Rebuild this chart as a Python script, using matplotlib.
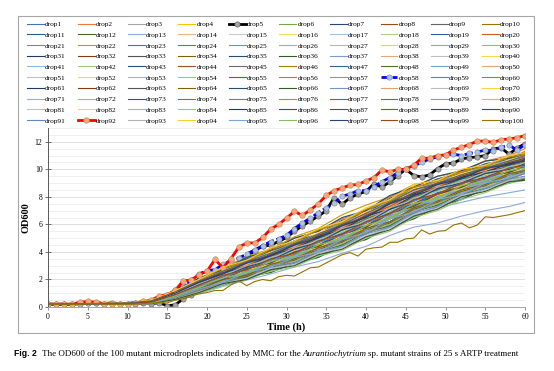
import colorsys
import matplotlib
matplotlib.use('Agg')
import matplotlib.pyplot as plt
from matplotlib.colors import to_rgb
from matplotlib.patches import Rectangle

plt.rcParams['font.family'] = ['Liberation Serif', 'DejaVu Serif']

# hourly readings for the highlighted drops, 3-hourly readings for the others
hours = list(range(61))
coarse_hours = [0, 10, 13, 16, 19, 22, 25, 28, 31, 34, 37, 40, 43, 46, 49, 52, 55, 58, 60]

drop1 = [0.2, 0.25, 0.4, 0.9, 1.7, 2.2, 2.9, 3.6, 4.1, 4.8, 5.6, 6.2, 7.0, 7.9, 8.4, 9.1, 9.7, 10.1, 10.5]
drop2 = [0.2, 0.3, 0.45, 1.1, 1.9, 2.5, 3.3, 3.9, 4.7, 5.3, 6.1, 6.8, 7.8, 8.4, 9.3, 9.8, 10.6, 11.0, 11.5]
drop3 = [0.2, 0.25, 0.3, 0.7, 1.3, 2.0, 2.6, 3.0, 3.7, 4.4, 4.9, 5.8, 6.4, 7.3, 8.0, 8.4, 9.2, 9.6, 9.9]
drop4 = [0.2, 0.3, 0.45, 1.0, 1.9, 2.7, 3.2, 4.1, 4.5, 5.3, 5.9, 6.9, 7.4, 8.3, 9.0, 9.4, 10.1, 10.3, 10.8]
drop5 = [0.2, 0.2, 0.2, 0.2, 0.25, 0.3, 0.3, 0.25, 0.25, 0.25,
         0.25, 0.25, 0.3, 0.25, 0.3, 0.1, 0.15, 0.6, 0.9, 1.2,
         1.5, 1.9, 2.3, 2.7, 3.2, 3.6, 4.1, 4.4, 4.5, 4.75,
         5.05, 5.5, 5.9, 6.25, 6.6, 7.0, 7.95, 7.45, 7.95, 8.2,
         8.4, 8.95, 8.7, 9.1, 9.55, 10.0, 9.55, 9.45, 9.6, 10.05,
         10.4, 10.45, 10.75, 10.85, 10.9, 11.0, 11.5, 11.55, 11.1, 11.55, 11.85]
drop6 = [0.2, 0.2, 0.25, 0.6, 1.2, 1.7, 2.3, 2.9, 3.3, 4.0, 4.8, 5.3, 6.1, 7.0, 7.5, 8.3, 9.0, 9.3, 9.7]
drop7 = [0.2, 0.25, 0.35, 0.9, 1.5, 2.2, 2.9, 3.3, 4.1, 4.6, 5.4, 6.2, 6.8, 7.7, 8.4, 8.9, 9.5, 10.1, 10.4]
drop8 = [0.2, 0.25, 0.4, 1.0, 1.8, 2.5, 3.0, 3.6, 4.4, 5.0, 5.6, 6.5, 7.2, 8.1, 8.6, 9.3, 9.8, 10.4, 10.7]
drop9 = [0.2, 0.25, 0.3, 0.8, 1.5, 2.0, 2.7, 3.4, 3.8, 4.5, 5.3, 5.8, 6.7, 7.4, 8.2, 8.7, 9.4, 9.8, 10.1]
drop10 = [0.2, 0.3, 0.45, 1.1, 2.0, 2.7, 3.2, 4.0, 4.8, 5.2, 6.1, 6.7, 7.6, 8.5, 8.9, 9.6, 10.0, 10.6, 10.9]
drop11 = [0.2, 0.2, 0.3, 0.7, 1.3, 1.8, 2.5, 3.0, 3.5, 4.3, 4.8, 5.7, 6.2, 7.1, 7.9, 8.3, 9.1, 9.5, 9.9]
drop12 = [0.2, 0.2, 0.25, 0.55, 1.1, 1.7, 2.1, 2.7, 3.3, 3.7, 4.5, 5.0, 5.9, 6.5, 7.4, 7.9, 8.6, 9.2, 9.2]
drop13 = [0.2, 0.25, 0.3, 0.6, 1.0, 1.5, 1.95, 2.4, 2.9, 3.3, 3.9, 4.4, 5.2, 5.8, 6.1, 6.6, 7.0, 7.3, 7.6]
drop14 = [0.2, 0.25, 0.4, 0.95, 1.7, 2.4, 2.9, 3.6, 4.3, 4.8, 5.7, 6.2, 7.1, 8.0, 8.5, 9.2, 9.8, 10.1, 10.6]
drop15 = [0.2, 0.25, 0.35, 0.85, 1.5, 2.2, 2.7, 3.4, 3.9, 4.6, 5.4, 5.9, 6.8, 7.5, 8.3, 8.8, 9.4, 10.0, 10.3]
drop16 = [0.2, 0.3, 0.4, 1.0, 1.8, 2.4, 3.2, 3.7, 4.5, 5.1, 5.8, 6.7, 7.3, 8.1, 8.9, 9.3, 10.0, 10.5, 10.8]
drop17 = [0.2, 0.2, 0.25, 0.6, 1.1, 1.7, 2.2, 2.8, 3.2, 3.9, 4.6, 5.1, 5.9, 6.6, 7.4, 7.9, 8.7, 9.1, 9.5]
drop18 = [0.2, 0.2, 0.3, 0.65, 1.3, 1.9, 2.3, 2.9, 3.6, 4.0, 4.8, 5.4, 6.1, 7.0, 7.6, 8.4, 8.8, 9.5, 9.8]
drop19 = [0.2, 0.25, 0.35, 0.9, 1.6, 2.3, 2.8, 3.6, 4.1, 4.7, 5.6, 6.1, 7.0, 7.9, 8.4, 9.1, 9.5, 10.2, 10.4]
drop20 = [0.2, 0.3, 0.45, 1.15, 2.0, 2.6, 3.5, 4.0, 4.8, 5.6, 6.1, 7.0, 7.7, 8.6, 9.3, 9.7, 10.4, 10.7, 11.1]
drop21 = [0.2, 0.25, 0.3, 0.8, 1.4, 2.1, 2.5, 3.2, 3.9, 4.3, 5.1, 5.9, 6.5, 7.4, 8.1, 8.6, 9.3, 9.9, 10.1]
drop22 = [0.2, 0.3, 0.5, 1.2, 2.1, 2.8, 3.7, 4.2, 5.1, 5.7, 6.7, 7.4, 8.0, 8.9, 9.2, 9.9, 10.2, 10.8, 11.0]
drop23 = [0.2, 0.25, 0.3, 0.75, 1.4, 1.9, 2.6, 3.1, 3.6, 4.4, 4.9, 5.7, 6.6, 7.2, 8.0, 8.5, 9.3, 9.6, 10.0]
drop24 = [0.2, 0.25, 0.35, 0.85, 1.6, 2.1, 2.8, 3.3, 4.0, 4.5, 5.4, 6.0, 6.7, 7.6, 8.2, 8.9, 9.4, 10.0, 10.2]
drop25 = [0.2, 0.2, 0.25, 0.5, 1.0, 1.6, 2.0, 2.7, 3.1, 3.6, 4.4, 4.9, 5.8, 6.4, 7.3, 7.8, 8.6, 9.0, 9.4]
drop26 = [0.2, 0.3, 0.45, 1.05, 1.9, 2.5, 3.3, 3.8, 4.6, 5.1, 6.0, 6.5, 7.6, 8.2, 9.0, 9.4, 10.1, 10.4, 10.8]
drop27 = [0.2, 0.25, 0.35, 0.9, 1.6, 2.3, 2.7, 3.5, 4.0, 4.6, 5.5, 6.0, 7.0, 7.6, 8.4, 8.8, 9.6, 9.9, 10.3]
drop28 = [0.2, 0.25, 0.4, 1.0, 1.8, 2.3, 3.1, 3.6, 4.4, 4.9, 5.8, 6.4, 7.4, 7.9, 8.8, 9.2, 9.9, 10.2, 10.6]
drop29 = [0.2, 0.25, 0.3, 0.65, 1.1, 1.6, 2.1, 2.6, 3.2, 3.7, 4.4, 5.0, 6.0, 6.7, 7.2, 7.6, 8.0, 8.3, 8.5]
drop30 = [0.2, 0.2, 0.25, 0.65, 1.2, 1.9, 2.2, 2.9, 3.3, 4.1, 4.6, 5.5, 6.0, 7.0, 7.5, 8.3, 8.7, 9.4, 9.7]
drop31 = [0.2, 0.25, 0.4, 0.95, 1.7, 2.4, 3.0, 3.5, 4.3, 4.8, 5.7, 6.2, 7.2, 7.8, 8.7, 9.1, 9.9, 10.1, 10.5]
drop32 = [0.2, 0.3, 0.4, 1.0, 1.8, 2.5, 3.0, 3.9, 4.3, 5.2, 5.7, 6.7, 7.3, 8.3, 8.7, 9.5, 9.9, 10.6, 10.8]
drop33 = [0.2, 0.2, 0.3, 0.7, 1.3, 1.8, 2.5, 2.9, 3.7, 4.1, 5.0, 5.5, 6.4, 7.0, 7.9, 8.3, 9.1, 9.5, 9.9]
drop34 = [0.2, 0.25, 0.35, 0.85, 1.55, 2.3, 2.7, 3.4, 3.9, 4.7, 5.2, 6.1, 6.7, 7.7, 8.1, 8.9, 9.4, 10.1, 10.3]
drop35 = [0.2, 0.3, 0.45, 1.1, 1.9, 2.6, 3.4, 3.9, 4.7, 5.2, 6.2, 6.7, 7.8, 8.4, 9.2, 9.5, 10.3, 10.6, 11.0]
drop36 = [0.2, 0.2, 0.25, 0.55, 1.05, 1.6, 2.2, 2.5, 3.2, 3.6, 4.5, 4.9, 5.9, 6.4, 7.3, 7.8, 8.6, 9.0, 9.3]
drop37 = [0.2, 0.25, 0.3, 0.8, 1.5, 2.0, 2.8, 3.2, 4.0, 4.4, 5.3, 5.8, 6.8, 7.3, 8.2, 8.7, 9.4, 9.8, 10.2]
drop38 = [0.2, 0.25, 0.35, 0.9, 1.7, 2.2, 3.0, 3.4, 4.3, 4.7, 5.6, 6.1, 7.2, 7.7, 8.6, 9.0, 9.7, 10.0, 10.4]
drop39 = [0.2, 0.2, 0.3, 0.7, 1.3, 1.9, 2.3, 3.0, 3.4, 4.2, 4.7, 5.6, 6.1, 7.1, 7.6, 8.4, 8.8, 9.6, 9.8]
drop40 = [0.2, 0.3, 0.5, 1.2, 2.0, 2.9, 3.3, 4.2, 4.7, 5.6, 6.2, 7.1, 7.8, 8.8, 9.2, 10.0, 10.3, 11.0, 11.2]
drop41 = [0.2, 0.2, 0.25, 0.55, 1.1, 1.6, 2.3, 2.6, 3.3, 3.7, 4.5, 5.0, 5.9, 6.5, 7.4, 7.9, 8.7, 9.0, 9.4]
drop42 = [0.2, 0.25, 0.3, 0.75, 1.4, 2.1, 2.4, 3.2, 3.6, 4.4, 4.9, 5.8, 6.4, 7.4, 7.8, 8.7, 9.1, 9.8, 10.0]
drop43 = [0.2, 0.25, 0.4, 1.0, 1.75, 2.3, 3.1, 3.6, 4.4, 4.9, 5.8, 6.4, 7.4, 7.9, 8.8, 9.2, 10.0, 10.2, 10.6]
drop44 = [0.2, 0.25, 0.35, 0.85, 1.6, 2.3, 2.7, 3.5, 3.9, 4.8, 5.3, 6.2, 6.8, 7.8, 8.2, 9.0, 9.4, 10.1, 10.3]
drop45 = [0.2, 0.3, 0.45, 1.05, 1.85, 2.4, 3.3, 3.7, 4.6, 5.1, 6.0, 6.6, 7.6, 8.2, 9.0, 9.4, 10.2, 10.4, 10.8]
drop46 = [0.2, 0.25, 0.3, 0.8, 1.45, 2.1, 2.5, 3.3, 3.7, 4.5, 5.0, 5.9, 6.5, 7.5, 8.0, 8.8, 9.2, 9.9, 10.1]
drop47 = [0.2, 0.3, 0.45, 1.1, 2.0, 2.6, 3.5, 4.0, 4.8, 5.3, 6.3, 6.8, 7.9, 8.5, 9.3, 9.7, 10.4, 10.7, 11.1]
drop48 = [0.2, 0.2, 0.25, 0.6, 1.2, 1.8, 2.2, 2.9, 3.2, 4.0, 4.5, 5.4, 5.9, 6.9, 7.4, 8.2, 8.6, 9.3, 9.3]
drop49 = [0.2, 0.25, 0.35, 0.85, 1.5, 2.2, 2.7, 3.4, 3.8, 4.7, 5.2, 6.1, 6.7, 7.7, 8.1, 9.0, 9.3, 10.1, 10.3]
drop50 = [0.2, 0.25, 0.4, 0.95, 1.7, 2.3, 3.1, 3.5, 4.3, 4.8, 5.7, 6.2, 7.3, 7.8, 8.7, 9.1, 9.8, 10.1, 10.5]
drop51 = [0.2, 0.2, 0.25, 0.65, 1.2, 1.7, 2.4, 2.7, 3.5, 3.9, 4.8, 5.3, 6.2, 6.8, 7.7, 8.2, 9.0, 9.3, 9.7]
drop52 = [0.2, 0.3, 0.45, 1.1, 1.9, 2.7, 3.2, 4.0, 4.5, 5.4, 6.0, 6.9, 7.5, 8.6, 9.0, 9.7, 10.1, 10.7, 11.0]
drop53 = [0.2, 0.2, 0.3, 0.7, 1.35, 1.8, 2.5, 2.9, 3.7, 4.1, 5.0, 5.5, 6.4, 7.0, 7.9, 8.3, 9.1, 9.5, 9.9]
drop54 = [0.2, 0.2, 0.25, 0.5, 1.0, 1.5, 2.0, 2.6, 2.9, 3.7, 4.1, 5.0, 5.5, 6.5, 7.0, 7.8, 8.3, 9.0, 9.2]
drop55 = [0.2, 0.25, 0.35, 0.9, 1.7, 2.2, 3.0, 3.4, 4.2, 4.7, 5.6, 6.1, 7.1, 7.7, 8.6, 9.0, 9.7, 10.0, 10.5]
drop56 = [0.2, 0.3, 0.5, 1.2, 2.1, 2.7, 3.6, 4.1, 5.0, 5.5, 6.4, 7.0, 8.0, 8.7, 9.5, 9.8, 10.6, 10.8, 11.3]
drop57 = [0.2, 0.25, 0.3, 0.75, 1.4, 2.1, 2.4, 3.2, 3.6, 4.4, 4.9, 5.8, 6.4, 7.4, 7.9, 8.7, 9.1, 9.8, 10.0]
drop58 = [0.2, 0.2, 0.2, 0.2, 0.25, 0.3, 0.3, 0.25, 0.3, 0.25,
          0.25, 0.3, 0.35, 0.4, 0.6, 0.85, 1.2, 1.5, 1.95, 2.4,
          2.65, 2.7, 3.1, 3.35, 3.55, 3.85, 4.15, 4.45, 4.75, 4.95,
          5.2, 5.7, 6.1, 6.45, 6.85, 7.2, 7.55, 8.05, 8.2, 8.45,
          8.45, 8.75, 9.1, 9.4, 9.75, 10.05, 10.25, 10.5, 10.75, 10.9,
          11.05, 11.1, 11.0, 11.15, 11.25, 11.4, 11.35, 11.6, 11.75, 11.4, 11.8]
drop59 = [0.2, 0.25, 0.4, 1.0, 1.8, 2.4, 3.2, 3.7, 4.5, 5.0, 5.9, 6.5, 7.5, 8.1, 8.9, 9.3, 10.1, 10.3, 10.8]
drop60 = [0.2, 0.25, 0.3, 0.8, 1.5, 2.2, 2.6, 3.4, 3.8, 4.6, 5.1, 6.0, 6.6, 7.6, 8.1, 8.9, 9.3, 10.0, 10.2]
drop61 = [0.2, 0.3, 0.45, 1.05, 1.85, 2.4, 3.3, 3.7, 4.6, 5.1, 6.0, 6.5, 7.6, 8.2, 9.0, 9.4, 10.1, 10.4, 10.8]
drop62 = [0.2, 0.25, 0.35, 0.85, 1.55, 2.2, 2.7, 3.4, 3.8, 4.7, 5.2, 6.1, 6.7, 7.7, 8.2, 9.0, 9.3, 10.1, 10.3]
drop63 = [0.2, 0.25, 0.4, 0.95, 1.7, 2.4, 2.9, 3.7, 4.1, 5.0, 5.5, 6.4, 7.0, 8.0, 8.5, 9.3, 9.6, 10.3, 10.5]
drop64 = [0.2, 0.2, 0.3, 0.7, 1.3, 1.9, 2.3, 3.0, 3.4, 4.2, 4.7, 5.6, 6.1, 7.1, 7.6, 8.4, 8.8, 9.6, 9.8]
drop65 = [0.2, 0.3, 0.5, 1.2, 2.1, 2.7, 3.6, 4.1, 5.0, 5.5, 6.5, 7.0, 8.1, 8.7, 9.5, 9.9, 10.6, 10.8, 11.2]
drop66 = [0.2, 0.25, 0.35, 0.9, 1.6, 2.3, 2.7, 3.5, 3.9, 4.8, 5.3, 6.2, 6.8, 7.8, 8.2, 9.0, 9.4, 10.1, 10.3]
drop67 = [0.2, 0.2, 0.25, 0.6, 1.15, 1.8, 2.1, 2.8, 3.2, 4.0, 4.4, 5.3, 5.8, 6.8, 7.3, 8.1, 8.6, 9.3, 9.5]
drop68 = [0.2, 0.25, 0.4, 1.0, 1.75, 2.3, 3.1, 3.6, 4.4, 4.9, 5.8, 6.4, 7.4, 7.9, 8.8, 9.2, 10.0, 10.2, 10.6]
drop69 = [0.2, 0.25, 0.35, 0.9, 1.65, 2.4, 2.8, 3.6, 4.0, 4.9, 5.4, 6.3, 6.9, 7.9, 8.4, 9.2, 9.5, 10.2, 10.4]
drop70 = [0.2, 0.25, 0.3, 0.8, 1.45, 1.9, 2.7, 3.1, 3.9, 4.3, 5.2, 5.7, 6.7, 7.3, 8.1, 8.6, 9.4, 9.7, 10.1]
drop71 = [0.2, 0.3, 0.45, 1.1, 1.9, 2.5, 3.4, 3.9, 4.7, 5.2, 6.2, 6.7, 7.8, 8.4, 9.2, 9.5, 10.3, 10.6, 11.0]
drop72 = [0.2, 0.2, 0.3, 0.7, 1.35, 2.0, 2.3, 3.1, 3.5, 4.3, 4.8, 5.7, 6.2, 7.2, 7.7, 8.5, 8.9, 9.7, 9.9]
drop73 = [0.2, 0.25, 0.35, 0.85, 1.55, 2.1, 2.8, 3.3, 4.0, 4.5, 5.4, 5.9, 6.9, 7.5, 8.3, 8.8, 9.5, 9.8, 10.2]
drop74 = [0.2, 0.3, 0.4, 1.0, 1.8, 2.6, 3.0, 3.9, 4.3, 5.2, 5.7, 6.7, 7.3, 8.3, 8.7, 9.5, 9.9, 10.5, 10.7]
drop75 = [0.2, 0.2, 0.25, 0.65, 1.2, 1.7, 2.4, 2.7, 3.5, 3.9, 4.8, 5.3, 6.2, 6.8, 7.7, 8.1, 8.9, 9.3, 9.7]
drop76 = [0.2, 0.3, 0.45, 1.15, 2.0, 2.8, 3.3, 4.2, 4.7, 5.6, 6.1, 7.1, 7.7, 8.7, 9.1, 9.8, 10.2, 10.9, 11.1]
drop77 = [0.2, 0.25, 0.3, 0.8, 1.5, 2.0, 2.8, 3.2, 4.0, 4.4, 5.3, 5.8, 6.8, 7.4, 8.2, 8.7, 9.4, 9.8, 10.2]
drop78 = [0.2, 0.25, 0.4, 0.95, 1.7, 2.4, 2.9, 3.7, 4.1, 5.0, 5.5, 6.4, 7.0, 8.0, 8.5, 9.3, 9.6, 10.3, 10.5]
drop79 = [0.2, 0.25, 0.3, 0.75, 1.4, 1.9, 2.6, 3.0, 3.8, 4.2, 5.1, 5.6, 6.6, 7.2, 8.0, 8.5, 9.3, 9.6, 10.0]
drop80 = [0.2, 0.3, 0.45, 1.05, 1.85, 2.6, 3.1, 3.9, 4.4, 5.3, 5.8, 6.8, 7.4, 8.4, 8.8, 9.6, 9.9, 10.6, 10.8]
drop81 = [0.2, 0.2, 0.25, 0.55, 1.1, 1.7, 2.1, 2.8, 3.1, 3.9, 4.3, 5.2, 5.7, 6.7, 7.2, 8.1, 8.5, 9.2, 9.4]
drop82 = [0.2, 0.25, 0.35, 0.9, 1.6, 2.1, 2.9, 3.3, 4.1, 4.6, 5.5, 6.0, 7.0, 7.6, 8.4, 8.8, 9.6, 9.9, 10.3]
drop83 = [0.2, 0.25, 0.35, 0.9, 1.65, 2.3, 2.8, 3.6, 4.0, 4.9, 5.4, 6.3, 6.9, 7.9, 8.4, 9.2, 9.5, 10.2, 10.4]
drop84 = [0.2, 0.25, 0.3, 0.8, 1.45, 2.1, 2.5, 3.3, 3.7, 4.5, 5.0, 5.9, 6.5, 7.5, 7.9, 8.8, 9.2, 9.9, 10.1]
drop85 = [0.2, 0.25, 0.4, 1.0, 1.75, 2.5, 2.9, 3.8, 4.2, 5.1, 5.6, 6.6, 7.1, 8.1, 8.6, 9.4, 9.8, 10.4, 10.6]
drop86 = [0.2, 0.25, 0.3, 0.8, 1.5, 2.0, 2.8, 3.2, 4.0, 4.4, 5.3, 5.8, 6.8, 7.3, 8.2, 8.7, 9.4, 9.8, 10.2]
drop87 = [0.2, 0.3, 0.45, 1.05, 1.85, 2.5, 3.2, 3.8, 4.5, 5.2, 5.9, 6.6, 7.5, 8.3, 8.9, 9.5, 10.0, 10.5, 10.8]
drop88 = [0.2, 0.2, 0.3, 0.7, 1.3, 2.0, 2.3, 3.1, 3.5, 4.3, 4.8, 5.7, 6.2, 7.2, 7.7, 8.5, 8.9, 9.7, 9.9]
drop89 = [0.2, 0.25, 0.35, 0.9, 1.65, 2.2, 2.9, 3.4, 4.2, 4.7, 5.6, 6.1, 7.1, 7.7, 8.6, 9.0, 9.7, 10.0, 10.4]
drop90 = [0.2, 0.2, 0.25, 0.55, 1.05, 1.7, 2.0, 2.7, 3.0, 3.8, 4.2, 5.1, 5.6, 6.6, 7.1, 8.0, 8.4, 9.1, 9.2]
drop91 = [0.2, 0.25, 0.35, 0.85, 1.55, 2.2, 2.7, 3.4, 3.8, 4.7, 5.2, 6.1, 6.7, 7.7, 8.2, 9.0, 9.3, 10.1, 10.2]
drop92 = [0.2, 0.2, 0.2, 0.2, 0.35, 0.4, 0.35, 0.25, 0.25, 0.25,
          0.25, 0.3, 0.4, 0.5, 0.8, 0.9, 1.2, 1.9, 1.95, 2.35,
          2.6, 3.45, 2.85, 3.5, 4.35, 4.65, 4.65, 5.05, 5.65, 6.0,
          6.45, 6.95, 6.65, 7.05, 7.5, 8.1, 8.45, 8.65, 8.85, 8.9,
          9.15, 9.4, 9.95, 9.8, 10.0, 10.0, 10.3, 10.8, 10.8, 11.0,
          11.05, 11.4, 11.6, 11.8, 12.05, 12.05, 11.95, 12.15, 12.2, 12.3, 12.45]
drop93 = [0.2, 0.25, 0.4, 0.95, 1.7, 2.3, 3.0, 3.5, 4.3, 4.8, 5.7, 6.2, 7.2, 7.8, 8.7, 9.1, 9.8, 10.1, 10.5]
drop94 = [0.2, 0.3, 0.5, 1.2, 2.0, 2.9, 3.4, 4.3, 4.8, 5.7, 6.2, 7.2, 7.8, 8.9, 9.2, 10.0, 10.3, 11.0, 11.2]
drop95 = [0.2, 0.2, 0.3, 0.7, 1.3, 1.8, 2.5, 2.9, 3.6, 4.0, 4.9, 5.4, 6.4, 6.9, 7.8, 8.2, 9.0, 9.4, 9.8]
drop96 = [0.2, 0.25, 0.3, 0.8, 1.45, 2.1, 2.5, 3.3, 3.7, 4.5, 5.0, 5.9, 6.5, 7.5, 7.9, 8.8, 9.2, 9.9, 10.1]
drop97 = [0.2, 0.25, 0.4, 1.0, 1.8, 2.4, 3.2, 3.7, 4.5, 5.0, 5.9, 6.5, 7.5, 8.1, 8.9, 9.3, 10.1, 10.3, 10.7]
drop98 = [0.2, 0.25, 0.35, 0.9, 1.6, 2.3, 2.7, 3.5, 3.9, 4.8, 5.3, 6.2, 6.8, 7.8, 8.2, 9.0, 9.4, 10.1, 10.3]
drop99 = [0.2, 0.3, 0.45, 1.1, 1.9, 2.6, 3.3, 3.9, 4.6, 5.3, 6.0, 6.8, 7.6, 8.5, 9.0, 9.6, 10.1, 10.6, 11.0]
drop100 = [0.2, 0.2, 0.2, 0.2, 0.2, 0.25, 0.25, 0.2, 0.2, 0.2,
           0.2, 0.2, 0.25, 0.3, 0.3, 0.3, 0.5, 0.6, 0.8, 0.95,
           1.05, 1.2, 1.2, 1.6, 1.9, 1.55, 1.85, 2.0, 1.9, 2.2,
           2.3, 2.25, 2.55, 2.85, 2.9, 3.2, 3.5, 3.8, 3.95, 3.7,
           4.2, 4.3, 4.35, 4.7, 4.7, 4.95, 5.0, 5.6, 5.3, 5.5,
           5.55, 5.95, 6.1, 5.75, 5.95, 6.55, 6.5, 6.6, 6.7, 6.85, 7.0]

# Excel-like series colours: six accents, then shaded / tinted variants
accents = ['#4472C4', '#ED7D31', '#A5A5A5', '#FFC000', '#5B9BD5', '#70AD47']
shades = [(1, 0), (0.6, 0), (0.6, 0.4), (0.8, 0), (0.8, 0.2), (0.5, 0), (0.7, 0.3),
          (0.65, 0), (0.7, 0.3), (0.9, 0), (0.5, 0), (0.75, 0.25), (0.75, 0),
          (0.7, 0.3), (0.5, 0), (0.85, 0.15), (0.6, 0)]


def excel_color(i):
    r, g, b = to_rgb(accents[i % 6])
    mod, off = shades[i // 6]
    h, l, s = colorsys.rgb_to_hls(r, g, b)
    return colorsys.hls_to_rgb(h, min(1.0, l * mod + off), s)


special = {
    5: dict(color='black', lw=2.0, marker='o', ms=3.8, mfc='#A6A6A6', mec='#595959', mew=0.4),
    58: dict(color='#0000FF', lw=2.0, ls=(0, (3, 1)), marker='o', ms=3.8,
             mfc='#A9C4E4', mec='#7F7F7F', mew=0.4),
    92: dict(color='#FF0000', lw=2.0, marker='o', ms=4.0, mfc='#F4A77A', mec='#C8864F', mew=0.4),
}

fig = plt.figure(figsize=(5.54, 3.71), dpi=100)
W, H = 554, 371
fig.patches.append(Rectangle((18 / W, 1 - 333 / H), 516 / W, 317 / H, transform=fig.transFigure,
                             fill=False, ec='#a6a6a6', lw=0.8))

ax = fig.add_axes([48 / W, 1 - 307 / H, 477 / W, 179 / H])

handles = []
for n in range(1, 101):
    vals = globals()['drop%d' % n]
    x = hours if len(vals) == len(hours) else coarse_hours
    style = special.get(n, dict(color=excel_color(n - 1), lw=0.8))
    line, = ax.plot(x, vals, label='drop%d' % n, **style)
    handles.append(line)

ax.set_xlim(0, 60)
ax.set_ylim(0, 13)
ax.set_xticks(range(0, 61, 5))
ax.set_yticks(range(0, 13, 2))
ax.set_yticks([v * 0.5 for v in range(27)], minor=True)
ax.grid(which='minor', axis='y', color='#ededed', lw=0.6)
ax.grid(which='major', axis='y', color='#d9d9d9', lw=0.6)
ax.set_axisbelow(True)
ax.tick_params(which='minor', length=0)
ax.tick_params(axis='y', which='major', direction='inout', length=4, width=0.6, color='#595959',
               labelsize=5.5, pad=2)
ax.tick_params(axis='x', which='major', direction='out', length=2, width=0.6, color='#808080',
               labelsize=5.5, pad=2)
for side in ['top', 'right']:
    ax.spines[side].set_visible(False)
ax.spines['left'].set_color('#595959')
ax.spines['left'].set_linewidth(0.7)
ax.spines['bottom'].set_color('#a6a6a6')
ax.spines['bottom'].set_linewidth(0.7)

ax.set_ylabel('OD600', fontsize=7.5, fontweight='bold', labelpad=3)
ax.set_xlabel('Time (h)', fontsize=7.5, fontweight='bold', labelpad=1)

# legend is filled row by row in the original, matplotlib fills columns
order = [r * 10 + c for c in range(10) for r in range(10)]
fig.legend([handles[k] for k in order], [handles[k].get_label() for k in order],
           ncol=10, loc='upper left', bbox_to_anchor=(27 / W, 1 - 21 / H, 497 / W, 0),
           mode='expand', frameon=False, fontsize=5.3, handlelength=2.3, handletextpad=0.15,
           labelspacing=0.62, borderaxespad=0, borderpad=0, numpoints=1, columnspacing=0.5)

# caption
renderer = fig.canvas.get_renderer()
y_cap = 1 - 354 / H
t1 = fig.text(14 / W, y_cap, 'Fig. 2', fontsize=6.2, fontweight='bold', family='Liberation Sans',
              va='center')
x = t1.get_window_extent(renderer).x1 + 5
t2 = fig.text(x / W, y_cap, 'The OD600 of the 100 mutant microdroplets indicated by MMC for the',
              fontsize=6.5, va='center')
x = t2.get_window_extent(renderer).x1 + 1.7
t3 = fig.text(x / W, y_cap, 'Aurantiochytrium', fontsize=6.5, style='italic', va='center')
x = t3.get_window_extent(renderer).x1 + 1.7
fig.text(x / W, y_cap, 'sp. mutant strains of 25 s ARTP treatment', fontsize=6.5, va='center')

fig.savefig('out.png', dpi=100)
